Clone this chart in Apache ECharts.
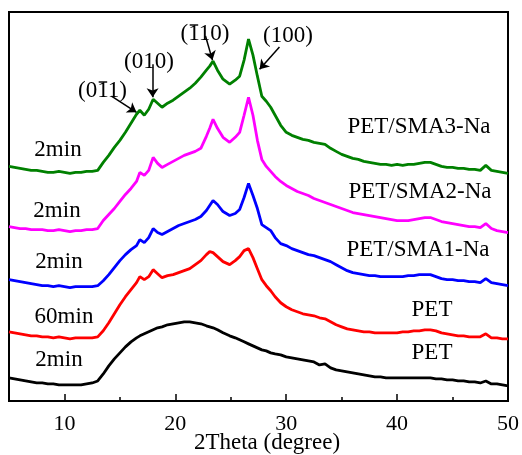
<!DOCTYPE html>
<html>
<head>
<meta charset="utf-8">
<script src="https://cdn.jsdelivr.net/npm/echarts@6/dist/echarts.min.js"></script>
<style>
  html, body { margin: 0; padding: 0; background: #fff; }
  #chart { width: 522px; height: 455px; }
</style>
</head>
<body>
<div id="chart"></div>
<script>
// 2θ sampling positions (degrees), denser around the crystalline reflections
const twoTheta = [
  5, 5.5, 6, 6.5, 7, 7.5, 8, 8.5, 9, 9.5, 10, 10.5, 11, 11.5, 12, 12.5, 13,
  13.5, 14, 14.5, 15, 15.5, 16, 16.5,
  16.8, 17.2, 17.6, 18.0, 18.4, 18.8, 19.3, 19.8, 20.3, 20.8, 21.3, 21.8, 22.3, 22.8,
  23.1, 23.4, 23.8, 24.3, 24.9, 25.4, 25.8, 26.2, 26.6, 27.0, 27.4, 27.8, 28.2, 28.6, 29.0,
  29.5, 30, 30.5, 31, 31.5, 32, 32.5, 33, 33.5, 34, 34.5, 35, 35.5, 36, 36.5, 37, 37.5,
  38, 38.5, 39, 39.5, 40, 40.5, 41, 41.5, 42, 42.5, 43, 43.5, 44, 44.5, 45, 45.5, 46,
  46.5, 47, 47.5, 48, 48.5, 49, 49.5, 50
];

// Stacked intensities (a.u., vertically offset patterns)
const petSma3Na2min = [
  234, 233, 232, 231, 230, 230, 229, 228, 228, 229, 228, 227, 228, 228, 229, 229, 230,
  238, 245, 253, 260, 268, 277, 286,
  290, 285, 291, 301, 297, 293, 297, 300, 304, 308, 312, 317, 323, 330, 334, 339, 330, 321, 316, 320,
  324, 340, 361, 345, 324, 304, 299, 293, 285,
  275, 268, 265, 263, 261, 260, 258, 257, 256, 252, 249, 246, 244, 242, 241, 239, 238, 237, 236, 236,
  235, 236, 235, 236, 236, 237, 238, 238, 236, 234, 233, 233, 232, 232, 231, 231, 230, 235, 230, 229,
  228, 227
];
const petSma2Na2min = [
  174, 173, 172, 172, 171, 171, 171, 170, 170, 171, 170, 169, 170, 170, 171, 171, 172,
  180, 186, 192, 199, 206, 212, 219,
  228, 225, 230, 243, 237, 233, 236, 239, 242, 245, 247, 249, 252, 264, 272, 281, 272, 263, 258, 263,
  268, 285, 303, 285, 260, 241, 234, 229, 224,
  219, 215, 212, 209, 207, 205, 202, 200, 198, 196, 194, 192, 190, 188, 187, 186, 185, 184, 183, 182,
  181, 180, 180, 180, 181, 182, 183, 183, 181, 179, 178, 177, 176, 175, 174, 174, 173, 177, 172, 170,
  169, 168
];
const petSma1Na2min = [
  121, 120, 119, 118, 117, 116, 115, 115, 114, 115, 114, 113, 114, 114, 114, 114, 115,
  120, 126, 133, 140, 146, 151, 155,
  161, 158, 163, 172, 168, 166, 169, 172, 175, 177, 179, 181, 184, 190, 195, 200, 196, 189, 185, 187,
  191, 203, 217, 205, 192, 176, 173, 170, 163,
  157, 155, 152, 150, 148, 146, 145, 143, 141, 139, 136, 133, 130, 128, 127, 126, 125, 125, 124, 124,
  124, 124, 124, 125, 125, 126, 126, 126, 124, 122, 121, 121, 120, 120, 119, 119, 118, 122, 118, 117,
  116, 115
];
const pet60min = [
  69, 68, 67, 66, 65, 65, 64, 64, 63, 64, 63, 62, 63, 63, 63, 63, 64,
  70, 78, 87, 96, 104, 111, 118,
  124, 121, 124, 131, 127, 123, 125, 126, 128, 130, 132, 136, 140, 146, 149, 148, 144, 139, 136, 140,
  144, 150, 152, 143, 132, 121, 115, 110, 104,
  98, 94, 91, 89, 87, 86, 85, 83, 82, 79, 76, 74, 72, 71, 70, 69, 69, 68, 68, 68,
  68, 68, 69, 69, 70, 70, 71, 71, 70, 68, 67, 66, 65, 65, 64, 64, 64, 67, 63, 63,
  62, 62
];
const pet2min = [
  23, 22, 21, 20, 19, 18, 18, 17, 17, 16, 16, 16, 16, 16, 17, 18, 20,
  27, 35, 42, 48, 54, 59, 63,
  65, 67, 69, 71, 73, 74, 76, 77, 78, 79, 79, 78, 77, 75, 74, 73, 71, 68, 65, 63,
  61, 59, 57, 55, 53, 51, 50, 48, 47,
  46, 44, 43, 42, 41, 40, 39, 36, 37, 33, 31, 30, 29, 28, 27, 26, 25, 24, 24, 23,
  23, 23, 23, 23, 23, 23, 23, 23, 22, 22, 21, 21, 20, 20, 19, 19, 18, 20, 17, 17,
  16, 15
];

// Tick values and text
const majorTicks = [10, 20, 30, 40];
const minorTicks = [15, 25, 35, 45];
const tickLabels = [10, 20, 30, 40, 50];
const xTitle = '2Theta (degree)';

const FONT = '"Liberation Serif", "Times New Roman", serif';

function toPoints(values) {
  return twoTheta.map((x, i) => [x, values[i]]);
}

const curves = [
  { name: 'PET 2min', values: pet2min, color: '#000000' },
  { name: 'PET 60min', values: pet60min, color: '#ff0000' },
  { name: 'PET/SMA1-Na 2min', values: petSma1Na2min, color: '#0000ff' },
  { name: 'PET/SMA2-Na 2min', values: petSma2Na2min, color: '#ff00ff' },
  { name: 'PET/SMA3-Na 2min', values: petSma3Na2min, color: '#008000' }
];

// Arrows pointing at the reflections of the top pattern (data coordinates)
const reflectionArrows = [
  [[14.24, 304], [16.5, 288]],
  [[17.95, 336], [17.95, 303]],
  [[22.72, 364], [23.35, 340]],
  [[29.39, 353], [27.6, 331]]
];

const series = curves.map((c, k) => ({
  name: c.name,
  type: 'line',
  data: toPoints(c.values),
  showSymbol: false,
  symbol: 'none',
  smooth: false,
  silent: true,
  lineStyle: { color: c.color, width: 2.8 },
  z: 2 + k,
  markLine: k === curves.length - 1 ? {
    silent: true,
    symbol: ['none', 'arrow'],
    symbolSize: 9,
    label: { show: false },
    lineStyle: { color: '#000', width: 1.5, type: 'solid' },
    data: reflectionArrows.map(a => [{ coord: a[0] }, { coord: a[1] }])
  } : undefined
}));

const chart = echarts.init(document.getElementById('chart'), null, { renderer: 'canvas' });

chart.setOption({
  animation: false,
  backgroundColor: '#fff',
  grid: {
    left: 9, right: 14, top: 12, bottom: 54,
    outerBoundsMode: 'none', containLabel: false,
    show: true, borderColor: '#000', borderWidth: 2, backgroundColor: 'transparent'
  },
  xAxis: [
    {
      type: 'value', min: 5, max: 50, interval: 5,
      axisLine: { show: false },
      splitLine: { show: false },
      axisTick: { inside: true, length: 4, customValues: minorTicks, lineStyle: { color: '#000', width: 1.5 } },
      axisLabel: { customValues: tickLabels, fontFamily: FONT, fontSize: 22, color: '#000', margin: 12 }
    },
    {
      type: 'value', min: 5, max: 50, interval: 5, position: 'bottom',
      axisLine: { show: false },
      splitLine: { show: false },
      axisTick: { inside: true, length: 7, customValues: majorTicks, lineStyle: { color: '#000', width: 1.5 } },
      axisLabel: { show: false }
    }
  ],
  yAxis: { type: 'value', min: 0, max: 388, show: false },
  series: series
});

// Text annotations
const measureCtx = document.createElement('canvas').getContext('2d');
function textWidth(str, size) {
  measureCtx.font = size + 'px ' + FONT;
  return measureCtx.measureText(str).width;
}

const graphics = [];
function addText(str, x, y, size) {
  graphics.push({
    type: 'text', x: x, y: y, silent: true, z: 100,
    style: { text: str, fill: '#000', font: size + 'px ' + FONT, textAlign: 'center', textVerticalAlign: 'middle' }
  });
}
// Miller index with an overbar on one digit
function addMiller(str, barIndex, cx, cy, size) {
  addText(str, cx, cy, size);
  if (barIndex < 0) return;
  const total = textWidth(str, size);
  const x0 = cx - total / 2 + textWidth(str.slice(0, barIndex), size);
  const w = textWidth(str[barIndex], size);
  graphics.push({
    type: 'line', silent: true, z: 100,
    shape: { x1: x0 + 1.5, y1: cy - 9, x2: x0 + w - 1.5, y2: cy - 9 },
    style: { stroke: '#000', lineWidth: 1.4 }
  });
}

const sideSize = 23;
addText('2min', 58, 150, sideSize);
addText('2min', 57, 211, sideSize);
addText('2min', 59, 262, sideSize);
addText('60min', 64, 317, sideSize);
addText('2min', 59, 360, sideSize);

addText('PET/SMA3-Na', 419, 127, sideSize);
addText('PET/SMA2-Na', 420, 192, sideSize);
addText('PET/SMA1-Na', 418, 250, sideSize);
addText('PET', 432, 310, sideSize);
addText('PET', 432, 353, sideSize);

addMiller('(011)', 2, 102.5, 91, 23);
addMiller('(010)', -1, 149, 62, 23);
addMiller('(110)', 1, 205, 34, 23);
addMiller('(100)', -1, 288, 36, 23);

// Axis title
addText(xTitle, 267, 443, 23);

chart.setOption({ graphic: graphics });
</script>
</body>
</html>
